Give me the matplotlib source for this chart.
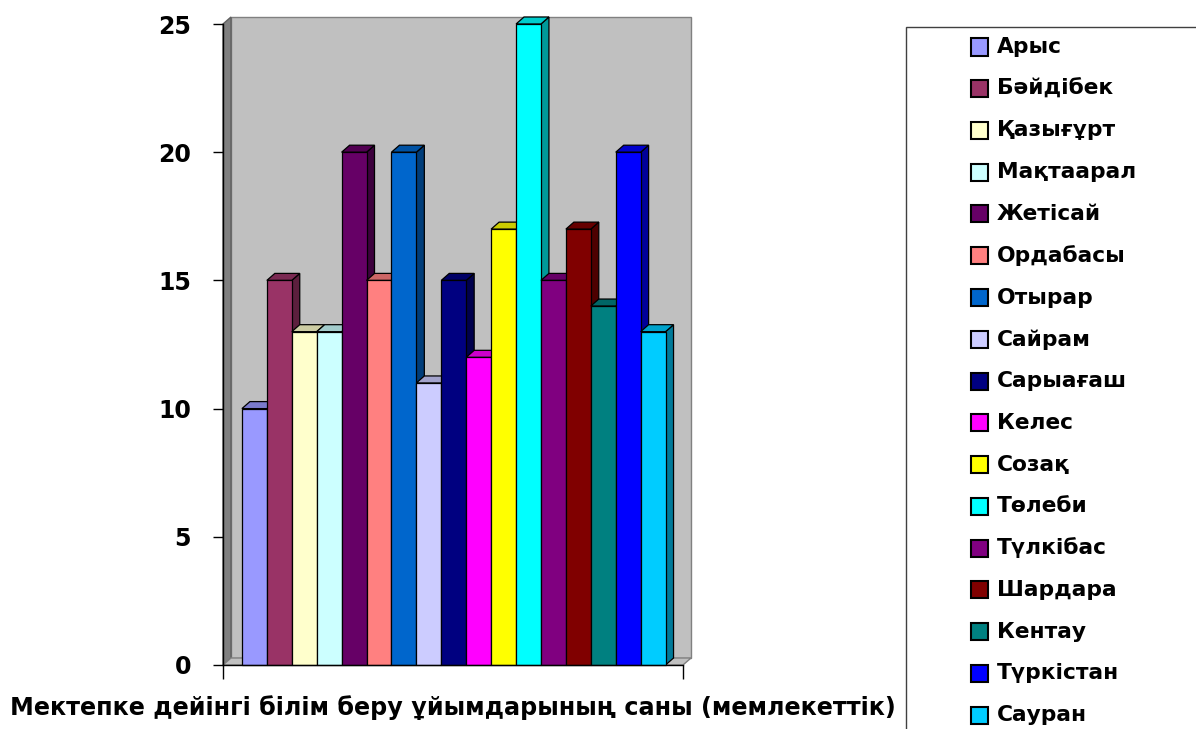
import matplotlib.pyplot as plt
import matplotlib.colors as mcolors
from matplotlib.patches import Polygon, Rectangle

plt.rcParams['font.family'] = ['DejaVu Sans']

# Аудандар және мектепке дейінгі ұйымдар саны
audandar = ['Арыс', 'Бәйдібек', 'Қазығұрт', 'Мақтаарал', 'Жетісай', 'Ордабасы',
            'Отырар', 'Сайрам', 'Сарыағаш', 'Келес', 'Созақ', 'Төлеби',
            'Түлкібас', 'Шардара', 'Кентау', 'Түркістан', 'Сауран']
sany = [10, 15, 13, 13, 20, 15, 20, 11, 15, 12, 17, 25, 15, 17, 14, 20, 13]
tuster = ['#9999FF', '#993366', '#FFFFCC', '#CCFFFF', '#660066', '#FF8080',
          '#0066CC', '#CCCCFF', '#000080', '#FF00FF', '#FFFF00', '#00FFFF',
          '#800080', '#800000', '#008080', '#0000FF', '#00CCFF']
y_ticks = [0, 5, 10, 15, 20, 25]
x_label = 'Мектепке дейінгі білім беру ұйымдарының саны (мемлекеттік)'

W, H = 1196, 729
fig = plt.figure(figsize=(W / 100, H / 100), dpi=100)
ax = fig.add_axes([223 / W, 64 / H, 460 / W, 641 / H])

xmin, xmax = -0.76, 17.7
ymax = 25
dx, dy = 0.32, 0.273   # 3D тереңдік


def shade(c, k):
    r, g, b = mcolors.to_rgb(c)
    return (r * k, g * k, b * k)


# Қабырғалар мен еден
ax.add_patch(Polygon([(xmin + dx, dy), (xmax + dx, dy), (xmax + dx, ymax + dy),
                      (xmin + dx, ymax + dy)], closed=True, facecolor='#C0C0C0',
                     edgecolor='#808080', lw=1, clip_on=False, zorder=1))
ax.add_patch(Polygon([(xmin, 0), (xmin + dx, dy), (xmin + dx, ymax + dy), (xmin, ymax)],
                     closed=True, facecolor='#808080', edgecolor='#606060', lw=1,
                     clip_on=False, zorder=1))
ax.add_patch(Polygon([(xmin, 0), (xmax, 0), (xmax + dx, dy), (xmin + dx, dy)],
                     closed=True, facecolor='#C0C0C0', edgecolor='#808080', lw=1,
                     clip_on=False, zorder=1))

# 3D бағандар
for i, (v, c) in enumerate(zip(sany, tuster)):
    x0, x1 = i, i + 1
    z = 2 + i
    ax.add_patch(Polygon([(x1, 0), (x1 + dx, dy), (x1 + dx, v + dy), (x1, v)], closed=True,
                         facecolor=shade(c, 0.6), edgecolor='black', lw=0.9,
                         clip_on=False, zorder=z))
    ax.add_patch(Polygon([(x0, v), (x1, v), (x1 + dx, v + dy), (x0 + dx, v + dy)], closed=True,
                         facecolor=shade(c, 0.8), edgecolor='black', lw=0.9,
                         clip_on=False, zorder=z))
    ax.add_patch(Rectangle((x0, 0), 1, v, facecolor=c, edgecolor='black', lw=0.9,
                           clip_on=False, zorder=z))

ax.set_xlim(xmin, xmax)
ax.set_ylim(0, ymax)
ax.set_facecolor('none')
for s in ['top', 'right']:
    ax.spines[s].set_visible(False)
for s in ['left', 'bottom']:
    ax.spines[s].set_color('black')
    ax.spines[s].set_linewidth(1)
    ax.spines[s].set_zorder(50)
ax.set_yticks(y_ticks)
ax.set_yticklabels([str(t) for t in y_ticks], fontsize=17, fontweight='bold')
ax.tick_params(axis='y', direction='out', length=7, width=1, pad=16)
ax.set_xticks([xmin, xmax])
ax.set_xticklabels(['', ''])
ax.tick_params(axis='x', direction='out', length=10, width=1)
ax.set_xlabel(x_label, fontsize=17.2, fontweight='bold', labelpad=8)

# Шартты белгілер
fig.patches.append(Rectangle((906 / W, -10 / H), 300 / W, (H - 27 + 10) / H,
                             transform=fig.transFigure, facecolor='white',
                             edgecolor='#404040', lw=1))
step = 41.75
for k, (name, c) in enumerate(zip(audandar, tuster)):
    yc = 47 + k * step
    fig.patches.append(Rectangle((971 / W, 1 - (yc + 8.5) / H), 17 / W, 17 / H,
                                 transform=fig.transFigure, facecolor=c,
                                 edgecolor='black', lw=1.5))
    fig.text(997 / W, 1 - yc / H, name, fontsize=15.7, fontweight='bold',
             ha='left', va='center')

fig.savefig('out.png', dpi=100)
